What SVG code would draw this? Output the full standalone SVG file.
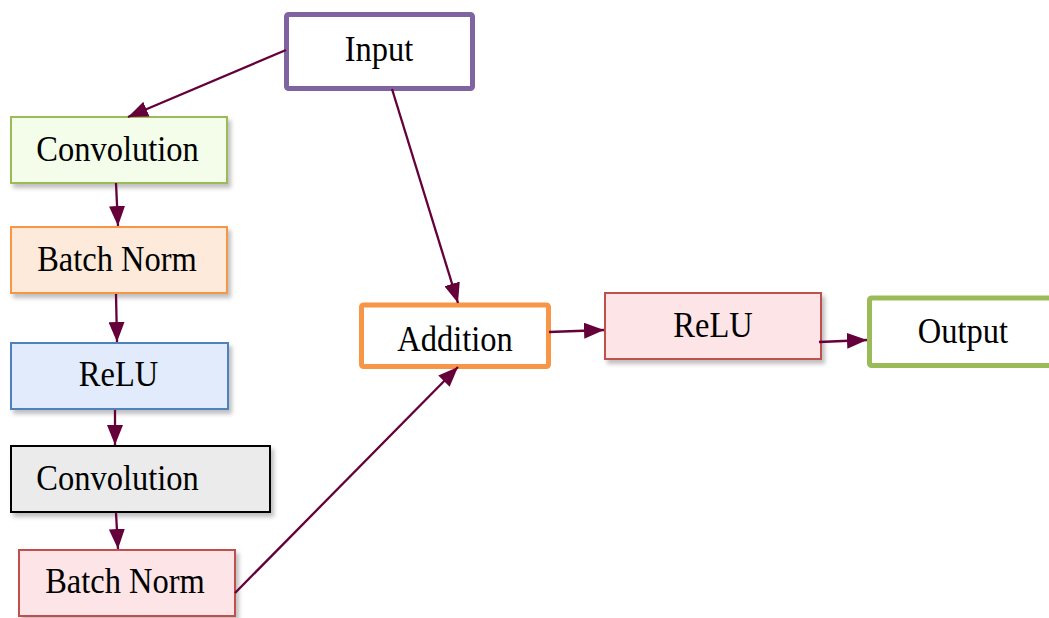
<svg xmlns="http://www.w3.org/2000/svg" width="1049" height="618" viewBox="0 0 1049 618">
  <defs>
    <filter id="shadow" x="-10%" y="-20%" width="125%" height="150%">
      <feDropShadow dx="3" dy="4" stdDeviation="2" flood-color="#000" flood-opacity="0.25"/>
    </filter>
    <marker id="head" viewBox="0 0 20 16" refX="20" refY="8" markerWidth="20" markerHeight="16" markerUnits="userSpaceOnUse" orient="auto">
      <path d="M0,0 L20,8 L0,16 z" fill="#65003A"/>
    </marker>
  </defs>
  <style>
    .lbl { font-family: "Liberation Serif", "Times New Roman", serif; font-size: 32.5px; fill: #000; text-anchor: middle; }
    .box { stroke-width: 2; filter: url(#shadow); }
    .bold { fill: #fff; stroke-width: 5; }
    .conn line { stroke: #65003A; stroke-width: 2.3; marker-end: url(#head); }
  </style>
  <rect width="1049" height="618" fill="#fff"/>

  <!-- labels are drawn at the origin, then placed and stretched slightly taller -->
  <g id="input">
    <rect class="bold" x="286.5" y="14.5" width="186" height="74" rx="2" stroke="#8064A2"/>
    <text class="lbl" transform="translate(379 61) scale(1 1.1)">Input</text>
  </g>

  <g id="conv1">
    <rect class="box" x="11" y="117" width="216" height="66" fill="#F3FDE9" stroke="#9BBB59"/>
    <text class="lbl" transform="translate(117.5 161) scale(1 1.1)">Convolution</text>
  </g>

  <g id="bn1">
    <rect class="box" x="11" y="227" width="216" height="66" fill="#FDEADA" stroke="#F79646"/>
    <text class="lbl" transform="translate(117 271) scale(1 1.1)">Batch Norm</text>
  </g>

  <g id="relu1">
    <rect class="box" x="11" y="343" width="217" height="66" fill="#E1EBFB" stroke="#4F81BD"/>
    <text class="lbl" transform="translate(118.5 386) scale(1 1.1)">ReLU</text>
  </g>

  <g id="conv2">
    <rect class="box" x="11" y="446" width="259" height="66" fill="#EBEBEB" stroke="#000" stroke-width="3"/>
    <text class="lbl" transform="translate(117.5 490) scale(1 1.1)">Convolution</text>
  </g>

  <g id="bn2">
    <rect class="box" x="19" y="550" width="216" height="66" fill="#FDE4E6" stroke="#C0504D"/>
    <text class="lbl" transform="translate(125 593) scale(1 1.1)">Batch Norm</text>
  </g>

  <g id="addition">
    <rect class="bold" x="361.5" y="305" width="187" height="61.5" rx="2" stroke="#F79646"/>
    <text class="lbl" transform="translate(455 351) scale(1 1.1)">Addition</text>
  </g>

  <g id="relu2">
    <rect class="box" x="605" y="293" width="216" height="66" fill="#FDE4E6" stroke="#C0504D"/>
    <text class="lbl" transform="translate(713 337) scale(1 1.1)">ReLU</text>
  </g>

  <g id="output">
    <rect class="bold" x="869.5" y="298" width="200" height="67.5" rx="2" stroke="#9BBB59"/>
    <text class="lbl" transform="translate(963 343) scale(1 1.1)">Output</text>
  </g>

  <g id="connectors" class="conn">
    <line x1="286" y1="50" x2="128" y2="117"/>
    <line x1="392" y1="89" x2="458" y2="303"/>
    <line x1="116" y1="183" x2="118" y2="226"/>
    <line x1="116" y1="294" x2="117" y2="342"/>
    <line x1="115" y1="410" x2="115" y2="445"/>
    <line x1="116" y1="513" x2="118" y2="549"/>
    <line x1="235" y1="593" x2="458" y2="367"/>
    <line x1="549" y1="332" x2="604" y2="330"/>
    <line x1="819" y1="342" x2="867" y2="340"/>
  </g>
</svg>
